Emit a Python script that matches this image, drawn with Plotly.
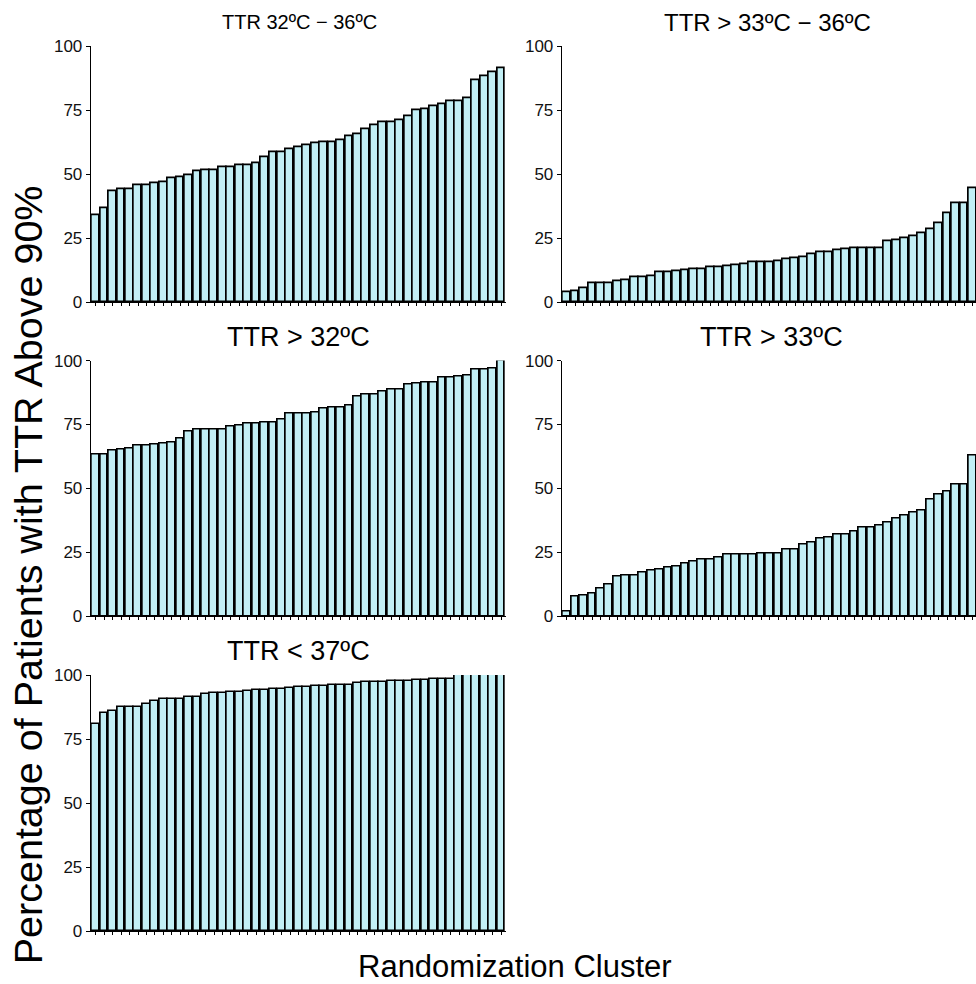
import plotly.graph_objects as go

titles = ["TTR 32ºC − 36ºC", "TTR > 33ºC − 36ºC", "TTR > 32ºC", "TTR > 33ºC", "TTR < 37ºC"]

ttr_32_36 = [34.2, 36.6, 43.4, 44.2, 44.2, 45.7, 45.7, 46.5, 47.0, 48.5,
             48.8, 49.7, 51.3, 51.7, 51.7, 52.6, 52.6, 53.5, 53.5, 54.2,
             56.7, 58.8, 58.8, 59.7, 60.4, 61.3, 62.2, 62.7, 62.7, 63.4,
             64.8, 65.6, 67.5, 69.2, 70.5, 70.5, 71.3, 72.6, 74.9, 75.3,
             76.6, 77.5, 78.4, 78.6, 79.9, 86.6, 88.2, 90.0, 91.6]

ttr_gt33_36 = [4.2, 4.4, 5.6, 7.4, 7.4, 7.5, 8.2, 8.8, 10.0, 10.0,
               10.1, 11.7, 12.0, 12.1, 12.6, 13.0, 13.0, 13.6, 13.6, 14.2,
               14.5, 14.9, 15.9, 15.9, 15.9, 16.0, 16.8, 17.2, 17.5, 18.8,
               19.8, 19.8, 20.3, 20.7, 21.1, 21.1, 21.1, 21.3, 24.0, 24.2,
               25.0, 25.9, 27.2, 28.5, 30.8, 34.7, 38.9, 38.9, 44.6]

ttr_gt32 = [63.2, 63.3, 64.8, 65.1, 65.5, 66.7, 66.7, 67.2, 67.6, 68.0,
            69.4, 72.3, 72.9, 73.0, 73.0, 73.2, 74.0, 74.6, 75.3, 75.3,
            75.9, 75.9, 77.0, 79.2, 79.2, 79.2, 79.8, 81.1, 81.5, 81.5,
            82.4, 85.9, 86.6, 86.7, 87.9, 88.5, 88.8, 90.5, 90.9, 91.3,
            91.5, 93.5, 93.5, 93.9, 94.1, 96.5, 96.5, 97.0, 100.0]

ttr_gt33 = [1.7, 7.6, 7.9, 8.8, 10.9, 12.4, 15.4, 15.8, 15.8, 17.1,
            17.8, 18.3, 19.2, 19.4, 20.7, 21.2, 22.0, 22.0, 22.8, 24.0,
            24.0, 24.0, 24.0, 24.6, 24.6, 24.6, 26.2, 26.2, 27.9, 28.9,
            30.5, 30.9, 31.8, 31.8, 33.1, 34.7, 34.7, 35.5, 36.6, 38.1,
            39.3, 40.7, 41.4, 45.5, 47.5, 48.8, 51.4, 51.4, 62.8]

ttr_lt37 = [80.9, 85.1, 86.0, 87.7, 87.7, 87.7, 88.6, 89.9, 90.6, 90.8,
            90.8, 91.3, 91.3, 92.6, 92.9, 92.9, 93.5, 93.5, 93.6, 94.0,
            94.2, 94.4, 94.5, 94.9, 95.2, 95.5, 95.6, 95.7, 96.0, 96.1,
            96.2, 97.0, 97.1, 97.1, 97.3, 97.5, 97.7, 97.8, 98.1, 98.1,
            98.4, 98.4, 98.6, 100.0, 100.0, 100.0, 100.0, 100.0, 100.0]

series = [ttr_32_36, ttr_gt33_36, ttr_gt32, ttr_gt33, ttr_lt37]
clusters = list(range(1, len(ttr_32_36) + 1))
y_ticks = [0, 25, 50, 75, 100]

W, H = 976, 984
FONT = "Liberation Sans, Arial, sans-serif"
FILL = "#c2eff5"
# observed vertical mapping of the captured page: shown_y = 7.8 + 0.9823 * y
V_OFF, V_K = 7.8, 0.9823


def fx(px):
    return px / W


def fy(py):
    return 1 - ((py - V_OFF) / V_K) / H


# panel geometry in target pixels (left, right, top, bottom)
left_x = (90.7, 506.3)
right_x = (561.7, 976.0)
rows = [(45.0, 301.7), (360.0, 616.0), (675.0, 931.7)]
panels = [(left_x, rows[0], False), (right_x, rows[0], True),
          (left_x, rows[1], False), (right_x, rows[1], True),
          (left_x, rows[2], False)]
# title placement: (center x, center y, font size)
title_pos = [(299, 21, 20), (767, 21, 24), (298, 336, 27), (771, 336, 27), (298, 651, 27)]

fig = go.Figure()
annotations = []
for i, (vals, title, (px, py, clipped), (tx, ty, ts)) in enumerate(
        zip(series, titles, panels, title_pos)):
    n = i + 1
    xa = "x" if n == 1 else f"x{n}"
    ya = "y" if n == 1 else f"y{n}"
    fig.add_trace(go.Bar(
        x=clusters, y=vals, xaxis=xa, yaxis=ya, width=0.92,
        marker=dict(color=FILL, line=dict(color="black", width=1.7)),
        showlegend=False, hoverinfo="y"))
    xkey = "xaxis" if n == 1 else f"xaxis{n}"
    ykey = "yaxis" if n == 1 else f"yaxis{n}"
    xr = [0.4, 49.4] if clipped else [0.4, 49.6]
    fig.layout[xkey] = dict(
        domain=[fx(px[0]), min(1.0, fx(px[1]))], anchor=ya, range=xr,
        showgrid=False, zeroline=False, showline=True, linecolor="black",
        linewidth=1, ticks="outside", ticklen=3, tickcolor="black",
        tickwidth=1, tickvals=clusters, showticklabels=False, fixedrange=True)
    fig.layout[ykey] = dict(
        domain=[fy(py[1]), fy(py[0])], anchor=xa, range=[0, 100],
        showgrid=False, zeroline=False, showline=True, linecolor="black",
        linewidth=1, ticks="outside", ticklen=4, tickcolor="black",
        tickwidth=1, tickvals=y_ticks,
        tickfont=dict(size=17, color="#111111", family=FONT),
        fixedrange=True)
    annotations.append(dict(
        text=title, x=fx(tx), y=fy(ty), xref="paper", yref="paper",
        showarrow=False, font=dict(size=ts, color="black", family=FONT),
        xanchor="center", yanchor="middle"))

annotations.append(dict(
    text="Randomization Cluster", x=fx(515), y=fy(967), xref="paper", yref="paper",
    showarrow=False, font=dict(size=31, color="black", family=FONT),
    xanchor="center", yanchor="middle"))
annotations.append(dict(
    text="Percentage of Patients with TTR Above 90%", x=fx(28), y=fy(575),
    xref="paper", yref="paper", textangle=-90, showarrow=False,
    font=dict(size=39.5, color="black", family=FONT),
    xanchor="center", yanchor="middle"))

fig.update_layout(
    width=W, height=H, margin=dict(l=0, r=0, t=0, b=0),
    paper_bgcolor="white", plot_bgcolor="white", bargap=0,
    annotations=annotations)

fig.write_html("out.html", config={"displayModeBar": False},
               post_script="document.body.style.margin='0';"
                           "document.body.style.overflow='hidden';")
